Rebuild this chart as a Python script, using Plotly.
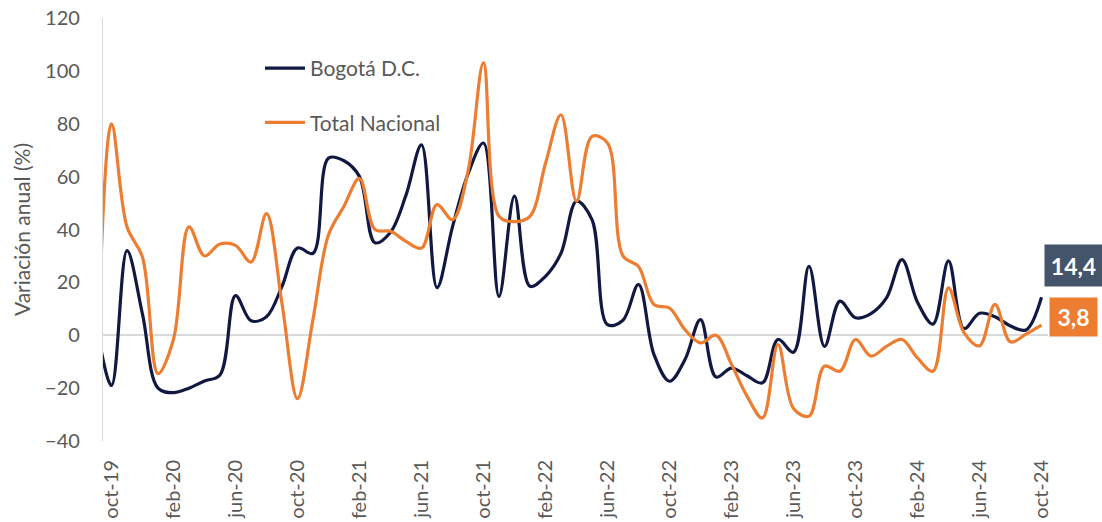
import plotly.graph_objects as go

# Monthly labels (first month is only partially visible at the left edge)
months = [
    "sep-19", "oct-19", "nov-19", "dic-19",
    "ene-20", "feb-20", "mar-20", "abr-20", "may-20", "jun-20", "jul-20", "ago-20", "sep-20", "oct-20", "nov-20", "dic-20",
    "ene-21", "feb-21", "mar-21", "abr-21", "may-21", "jun-21", "jul-21", "ago-21", "sep-21", "oct-21", "nov-21", "dic-21",
    "ene-22", "feb-22", "mar-22", "abr-22", "may-22", "jun-22", "jul-22", "ago-22", "sep-22", "oct-22", "nov-22", "dic-22",
    "ene-23", "feb-23", "mar-23", "abr-23", "may-23", "jun-23", "jul-23", "ago-23", "sep-23", "oct-23", "nov-23", "dic-23",
    "ene-24", "feb-24", "mar-24", "abr-24", "may-24", "jun-24", "jul-24", "ago-24", "sep-24", "oct-24",
]

bogota = [
    5, -19, 32, 8,
    -20, -21.7, -20, -17.3, -15, 15, 5.5, 7, 18.5, 33, 31, 67,
    66, 60, 35, 39, 53, 72, 18, 41, 61, 72.7, 14.7, 52.6,
    18.5, 22.3, 31, 50.7, 43.7, 4, 5.7, 19.2, -7.3, -17.4, -9.2, 5.9,
    -15.8, -12.4, -15.3, -18, -1.6, -6.4, 26.1, -4.2, 12.9, 6.6, 8.2, 14.1,
    28.6, 12.5, 4.2, 28.1, 2.5, 8.3, 7, 3.5, 2, 14.4,
]

nacional = [
    -30, 80, 41, 29.5,
    -14.5, -1.5, 41, 30, 34.5, 34, 27.7, 46, 12, -24, 6, 38,
    48.8, 59.3, 40, 39.3, 35.5, 33, 49.4, 43.7, 62, 103, 45, 43,
    45, 65, 83.4, 50.7, 75.2, 72.7, 30, 26, 11.6, 10.3, 2.1, -2.9,
    0, -11, -23, -31.3, -3.5, -27.7, -30.6, -11.7, -13.6, -1.6, -7.9, -4.2,
    -1.6, -8.6, -13.6, 17.9, 1, -4, 11.7, -2.5, 0.4, 3.8,
]

tick_labels = months[1::4]

NAVY = "#111841"
ORANGE = "#ED7D31"
GREY_TXT = "#595959"
FONT = "Lato"

fig = go.Figure()
fig.add_trace(go.Scatter(
    x=months, y=bogota, name="Bogotá D.C.", mode="lines",
    line=dict(color=NAVY, width=3.2, shape="spline", smoothing=1.0),
    legendgroup="a",
))
fig.add_trace(go.Scatter(
    x=months, y=nacional, name="Total Nacional", mode="lines",
    line=dict(color=ORANGE, width=3.2, shape="spline", smoothing=1.0),
    legendgroup="b",
))

def fmt(v):
    return f"{v:.1f}".replace(".", ",")

fig.add_annotation(
    x=months[-1], y=bogota[-1], text=f"<b>{fmt(bogota[-1])}</b>",
    showarrow=False, xanchor="center", yanchor="middle",
    xshift=32, yshift=32, bgcolor="#44546A", borderpad=0,
    width=57, height=41, font=dict(family=FONT, size=23, color="white"),
)
fig.add_annotation(
    x=months[-1], y=nacional[-1], text=f"<b>{fmt(nacional[-1])}</b>",
    showarrow=False, xanchor="center", yanchor="middle",
    xshift=32, yshift=8, bgcolor=ORANGE, borderpad=0,
    width=47, height=38, font=dict(family=FONT, size=23, color="white"),
)

fig.update_layout(
    width=1102, height=522,
    margin=dict(l=103, r=54, t=18, b=81),
    plot_bgcolor="white", paper_bgcolor="white",
    font=dict(family=FONT, color=GREY_TXT, size=20),
    showlegend=True,
    legend=dict(
        x=(260 - 103) / 945, y=(441 - 48) / 423, xanchor="left", yanchor="top",
        font=dict(family=FONT, size=21, color=GREY_TXT),
        bgcolor="rgba(0,0,0,0)", traceorder="grouped", tracegroupgap=24,
        itemwidth=40,
    ),
)
fig.update_xaxes(
    type="category", automargin=False,
    range=[1 - 0.548, len(months) - 1 + 0.42],
    tickmode="array", tickvals=tick_labels, ticktext=tick_labels,
    tickangle=-90, showgrid=False, zeroline=False, showline=False,
    ticks="", ticklabelstandoff=14, ticklabeloverflow="allow",
    tickfont=dict(family=FONT, size=20, color=GREY_TXT),
)
fig.update_yaxes(
    automargin=False,
    range=[-40, 120], dtick=20, tick0=0,
    showgrid=False, showline=True, linecolor="#D9D9D9", linewidth=1.2,
    zeroline=True, zerolinecolor="#D9D9D9", zerolinewidth=1.5,
    ticks="", ticklabelstandoff=18, ticklabeloverflow="allow",
    tickfont=dict(family=FONT, size=20, color=GREY_TXT),
    title=dict(text="Variación anual (%)", standoff=8,
               font=dict(family=FONT, size=21, color=GREY_TXT)),
)

# remove the browser's default 8px body margin so the figure fills the window
fig.write_html(
    "out.html",
    config={"displayModeBar": False},
    post_script="document.body.style.margin='0';",
)
